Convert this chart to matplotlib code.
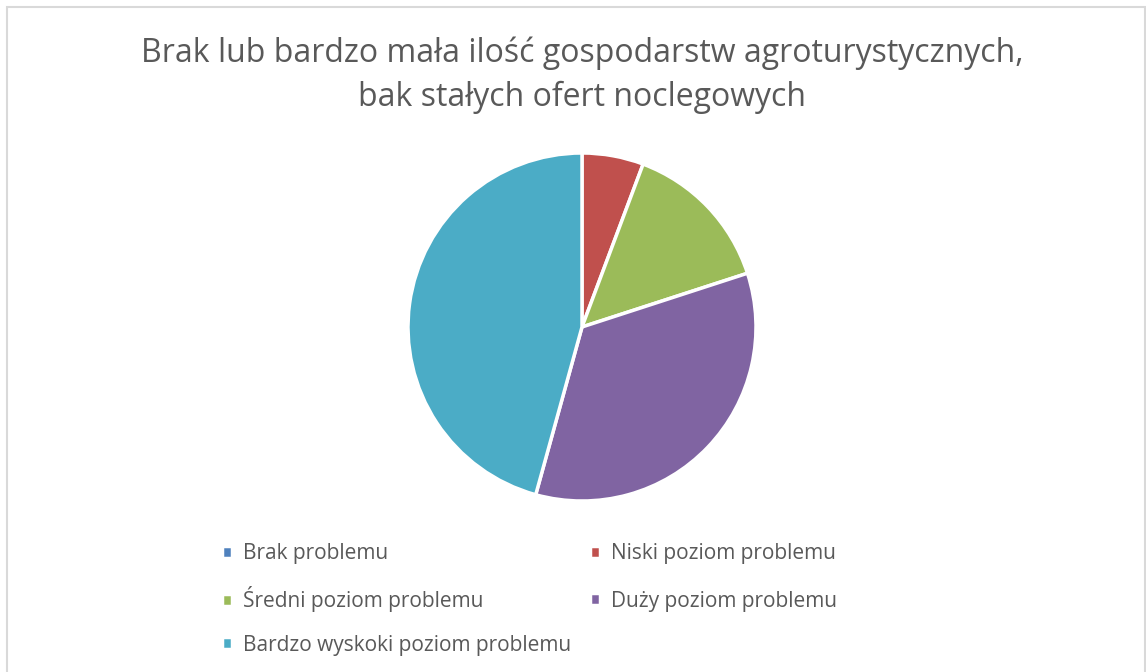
import matplotlib.pyplot as plt
from matplotlib.patches import Rectangle

# dane
kategorie = ["Brak problemu", "Niski poziom problemu", "Średni poziom problemu",
             "Duży poziom problemu", "Bardzo wyskoki poziom problemu"]
wartosci = [0, 2, 5, 12, 16]
kolory = ["#4F81BD", "#C0504D", "#9BBB59", "#8064A2", "#4BACC6"]
tytul = "Brak lub bardzo mała ilość gospodarstw agroturystycznych,\nbak stałych ofert noclegowych"

plt.rcParams['font.family'] = ['Open Sans', 'DejaVu Sans']

W, H = 1146, 672
fig = plt.figure(figsize=(W / 100, H / 100), dpi=100)
fig.patches.append(Rectangle((7 / W, -0.1), 1138 / W, 1.1 - 7 / H, transform=fig.transFigure,
                             fill=False, edgecolor="#D9D9D9", linewidth=1.5))

# pie: center (582,327), r=174 px
ax = fig.add_axes([(582 - 174) / W, 1 - (327 + 174) / H, 348 / W, 348 / H])
wedges, _ = ax.pie(wartosci, colors=kolory, startangle=90, counterclock=False,
                   wedgeprops=dict(edgecolor="white", linewidth=2.5))
ax.set_xlim(-1, 1)
ax.set_ylim(-1, 1)
ax.set_aspect("equal")

fig.text(582 / W, 1 - 36 / H, tytul, ha="center", va="top", fontsize=23, color="#595959",
         linespacing=1.45)

# legenda - wiersz po wierszu jak w Excelu
pozycje = [(222, 554), (590, 554), (222, 599), (590, 601), (222, 645)]
for w, lab, (px, py) in zip(wedges, kategorie, pozycje):
    fig.legend([w], [lab], loc="center left", bbox_to_anchor=(px / W, 1 - py / H),
               frameon=False, fontsize=15, labelcolor="#595959", borderpad=0,
               borderaxespad=0, handlelength=0.5, handleheight=0.5, handletextpad=0.5)

fig.savefig("out.png", dpi=100)
